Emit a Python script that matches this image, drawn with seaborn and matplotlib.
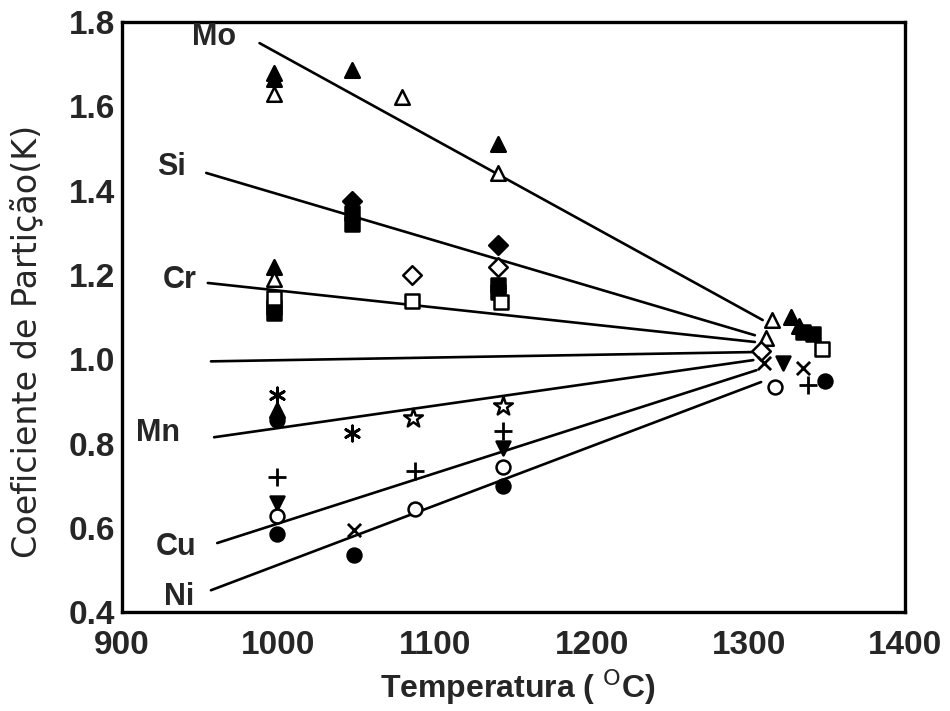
import matplotlib
matplotlib.use("Agg")
import matplotlib.pyplot as plt
import numpy as np
import pandas as pd
import seaborn as sns

# ---- fitted lines (element, start/end) ----
line_names = ["Mo", "Si", "Cr", "ref", "Mn", "Cu", "Ni"]
line_x_start = [988, 954, 955, 957, 959, 961, 957]
line_y_start = [1.75, 1.442, 1.181, 0.995, 0.815, 0.564, 0.452]
line_x_end = [1309, 1304, 1304, 1302, 1303, 1305, 1308]
line_y_end = [1.093, 1.057, 1.041, 1.017, 0.998, 0.974, 0.946]

# ---- element labels ----
label_text = ["Mo", "Si", "Cr", "Mn", "Cu", "Ni"]
label_x = [959, 932, 937, 923, 935, 937]
label_y = [1.764, 1.456, 1.188, 0.825, 0.554, 0.436]

# ---- data points per symbol ----
filled_tri_x = [997, 997, 1047, 1140, 997, 1327, 1332, 999]
filled_tri_y = [1.68, 1.665, 1.686, 1.51, 1.22, 1.10, 1.08, 0.879]
open_tri_x = [997, 1079, 1140, 997, 1315, 1311]
open_tri_y = [1.63, 1.622, 1.442, 1.19, 1.093, 1.05]
filled_sq_x = [1047, 1047, 1140, 1140, 997, 997, 1335, 1341]
filled_sq_y = [1.347, 1.322, 1.175, 1.16, 1.11, 1.125, 1.065, 1.06]
open_sq_x = [997, 1085, 1142, 1347]
open_sq_y = [1.145, 1.138, 1.135, 1.025]
filled_dia_x = [1047, 1140]
filled_dia_y = [1.375, 1.27]
open_dia_x = [1085, 1140, 1308]
open_dia_y = [1.2, 1.22, 1.02]
star_x = [1086, 1143]
star_y = [0.86, 0.89]
aster_x = [999, 1047]
aster_y = [0.915, 0.825]
plus_x = [1143, 999, 1087, 1338]
plus_y = [0.83, 0.72, 0.735, 0.94]
cross_x = [1048, 1310, 1335]
cross_y = [0.595, 0.99, 0.98]
down_tri_x = [1143, 999, 1322]
down_tri_y = [0.79, 0.66, 0.99]
open_circ_x = [999, 1143, 1087, 1317]
open_circ_y = [0.628, 0.745, 0.645, 0.935]
filled_circ_x = [999, 1143, 1048, 1349, 999]
filled_circ_y = [0.585, 0.70, 0.535, 0.948, 0.855]

x_ticks = [900, 1000, 1100, 1200, 1300, 1400]
y_ticks = [0.4, 0.6, 0.8, 1.0, 1.2, 1.4, 1.6, 1.8]
y_tick_labels = ["0.4", "0.6", "0.8", "1.0", "1.2", "1.4", "1.6", "1.8"]

sns.set_theme(style="white")
plt.rcParams['font.family'] = ['Liberation Sans', 'DejaVu Sans']

fig = plt.figure(figsize=(9.5, 7.11), dpi=100)
ax = fig.add_axes([0.128, 0.139, 0.825, 0.830])

# lines
rows = []
for n, x0, y0, x1, y1 in zip(line_names, line_x_start, line_y_start, line_x_end, line_y_end):
    rows.append(dict(line=n, x=x0, y=y0))
    rows.append(dict(line=n, x=x1, y=y1))
ldf = pd.DataFrame(rows)
sns.lineplot(data=ldf, x="x", y="y", units="line", estimator=None, sort=False,
             color="black", linewidth=1.9, ax=ax, legend=False)

# markers
groups = [
    (filled_tri_x, filled_tri_y, "^", "black", 110),
    (open_tri_x, open_tri_y, "^", "white", 110),
    (filled_sq_x, filled_sq_y, "s", "black", 110),
    (open_sq_x, open_sq_y, "s", "white", 110),
    (filled_dia_x, filled_dia_y, "D", "black", 90),
    (open_dia_x, open_dia_y, "D", "white", 90),
    (star_x, star_y, "*", "white", 200),
    (down_tri_x, down_tri_y, "v", "black", 100),
    (open_circ_x, open_circ_y, "o", "white", 100),
    (filled_circ_x, filled_circ_y, "o", "black", 100),
]
for xs, ys, m, fc, s in groups:
    df = pd.DataFrame({"x": xs, "y": ys})
    sns.scatterplot(data=df, x="x", y="y", marker=m, s=s, facecolor=fc,
                    edgecolor="black", linewidth=1.8, ax=ax, zorder=3)

line_groups = [
    (plus_x, plus_y, "+", 170),
    (cross_x, cross_y, "x", 90),
    (aster_x, aster_y, (6, 2, 0), 120),
]
for xs, ys, m, s in line_groups:
    df = pd.DataFrame({"x": xs, "y": ys})
    sns.scatterplot(data=df, x="x", y="y", marker=m, s=s, color="black",
                    linewidth=2.0, ax=ax, zorder=3)

for t, x, y in zip(label_text, label_x, label_y):
    ax.text(x, y, t, fontsize=22, fontweight="bold", ha="center", va="center")

ax.set_xlim(900, 1400)
ax.set_ylim(0.4, 1.8)
ax.set_xticks(x_ticks)
ax.set_xticklabels([str(v) for v in x_ticks])
ax.set_yticks(y_ticks)
ax.set_yticklabels(y_tick_labels)
ax.tick_params(axis="x", direction="in", length=8, width=1.5, labelsize=24, pad=13)
ax.tick_params(axis="y", direction="out", length=4, width=1.5, labelsize=24, pad=0.5)
for lab in ax.get_xticklabels() + ax.get_yticklabels():
    lab.set_fontweight("bold")
for sp in ax.spines.values():
    sp.set_visible(True)
    sp.set_linewidth(2.4)
    sp.set_color("black")

ax.set_xlabel(r"Temperatura ( $^{\mathrm{O}}$C)", fontsize=23, fontweight="bold")
ax.set_ylabel("Coeficiente de Partição(K)", fontsize=24, fontweight="normal",
              family=["DejaVu Sans"])
ax.yaxis.set_label_coords(-0.10, 0.459)
ax.xaxis.set_label_coords(0.505, -0.094)

fig.savefig("out.png", dpi=100)
